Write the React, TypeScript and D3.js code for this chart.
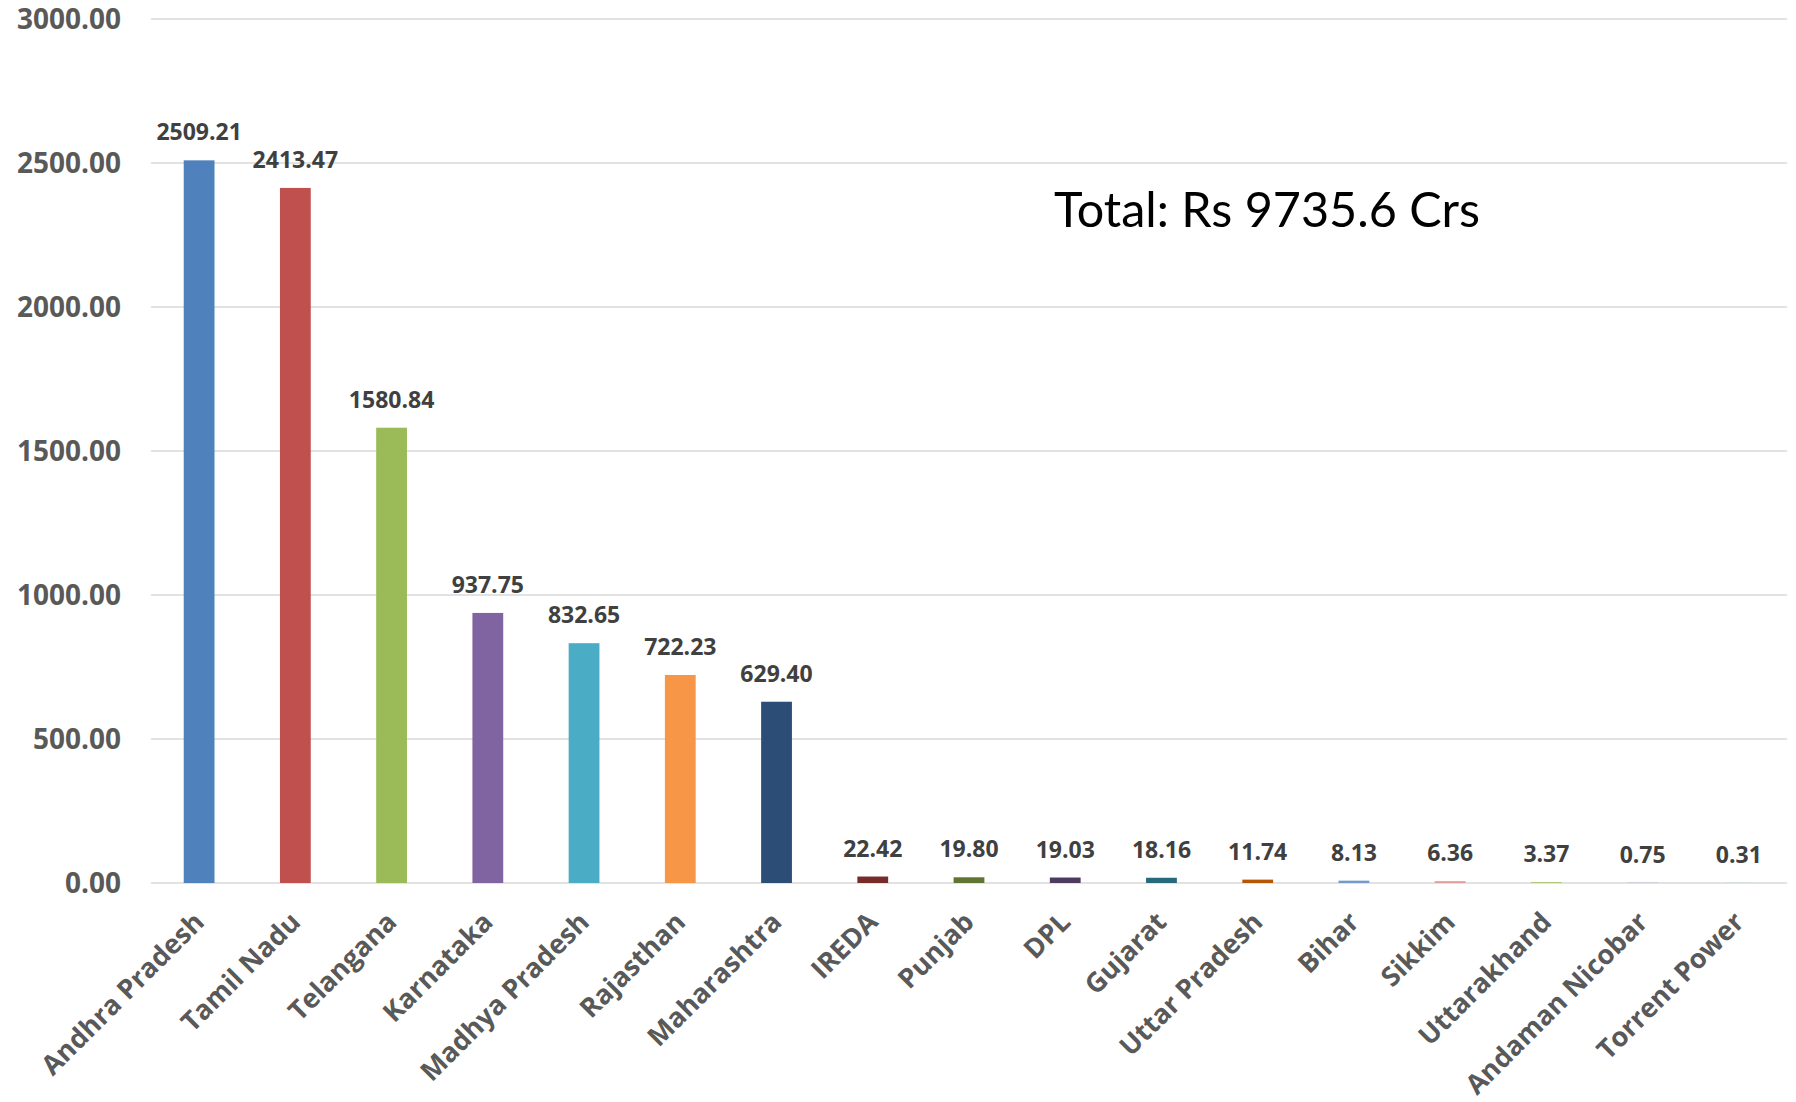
import React from "react";
import * as d3 from "d3";

const categories = [
  "Andhra Pradesh", "Tamil Nadu", "Telangana", "Karnataka", "Madhya Pradesh",
  "Rajasthan", "Maharashtra", "IREDA", "Punjab", "DPL", "Gujarat",
  "Uttar Pradesh", "Bihar", "Sikkim", "Uttarakhand", "Andaman Nicobar", "Torrent Power",
];
const values = [
  2509.21, 2413.47, 1580.84, 937.75, 832.65, 722.23, 629.4, 22.42, 19.8, 19.03,
  18.16, 11.74, 8.13, 6.36, 3.37, 0.75, 0.31,
];
const colors = [
  "#4F81BD", "#C0504D", "#9BBB59", "#8064A2", "#4BACC6", "#F79646", "#2C4D75",
  "#772C2A", "#5F7530", "#4D3B62", "#276A7C", "#B65708", "#729ACA", "#E49C9A",
  "#AFC97A", "#A18CBB", "#6FC1D8",
];
const yTicks = [0, 500, 1000, 1500, 2000, 2500, 3000];
const totalLabel = "Total: Rs 9735.6 Crs";

export default function App() {
  const W = 1796, H = 1102;
  const left = 151, right = 1787, top = 19, bottom = 883;
  const x = d3.scaleBand<string>().domain(categories).range([left, right]).paddingInner(0.68).paddingOuter(0.34);
  const y = d3.scaleLinear().domain([0, 3000]).range([bottom, top]);
  const font = "'Open Sans', sans-serif";
  return (
    <svg width={W} height={H} style={{ position: "absolute", left: 0, top: 0, background: "#fff" }}>
      {yTicks.map((t) => (
        <g key={t}>
          <line x1={left} x2={right} y1={y(t)} y2={y(t)} stroke="#D9D9D9" strokeWidth={1.5} />
          <text x={121} y={y(t)} dy="0.36em" textAnchor="end" fontFamily={font} fontWeight={700} fontSize={28} fill="#595959">
            {t.toFixed(2)}
          </text>
        </g>
      ))}
      {categories.map((c, i) => {
        const bx = x(c)!;
        const cx = bx + x.bandwidth() / 2;
        return (
          <g key={c}>
            <rect x={bx} y={y(values[i])} width={x.bandwidth()} height={bottom - y(values[i])} fill={colors[i]} />
            <text x={cx} y={y(values[i]) - 20} textAnchor="middle" fontFamily={font} fontWeight={700} fontSize={23} fill="#404040">
              {values[i].toFixed(2)}
            </text>
            <text
              transform={`translate(${cx},${bottom + 34}) rotate(-45)`}
              textAnchor="end"
              dy="0.35em"
              fontFamily={font}
              fontWeight={700}
              fontSize={27}
              fill="#595959"
            >
              {c}
            </text>
          </g>
        );
      })}
      <text x={1054} y={227} fontFamily="Lato, sans-serif" fontSize={48.5} fill="#000">
        {totalLabel}
      </text>
    </svg>
  );
}
